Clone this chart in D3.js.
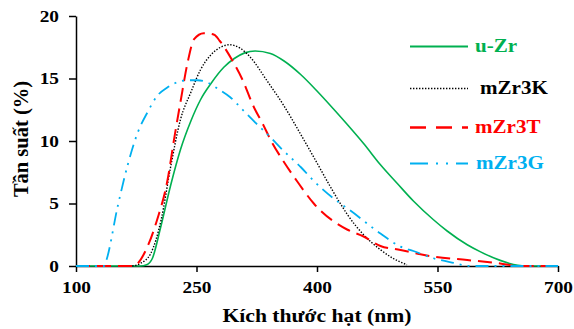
<!DOCTYPE html>
<html>
<head>
<meta charset="utf-8">
<script src="https://cdn.jsdelivr.net/npm/d3@7"></script>
<style>
  body { margin: 0; background: #fff; }
  text { font-family: "Liberation Serif", "Times New Roman", serif; font-weight: bold; }
</style>
</head>
<body>
<div id="chart"></div>
<script>
// tick labels and titles
const xTicks = [100, 250, 400, 550, 700];
const yTicks = [0, 5, 10, 15, 20];
const xTitle = "Kích thước hạt (nm)";
const yTitle = "Tần suất (%)";

// series (size in nm, frequency in %)
const uZrSize = [100, 180, 188, 195, 205, 218, 230, 243, 255, 268, 284, 297, 310, 323, 342, 359, 380, 400, 420, 438, 458, 479, 500, 520, 545, 562, 587, 603, 628, 650, 660, 700];
const uZrFreq = [0, 0, 0.1, 0.6, 3.0, 6.5, 9.3, 11.6, 13.3, 14.6, 15.9, 16.6, 17.05, 17.2, 17.0, 16.4, 15.3, 14.0, 12.6, 11.3, 9.8, 8.1, 6.6, 5.2, 3.7, 2.8, 1.7, 1.15, 0.45, 0.05, 0, 0];

const mZr3KSize = [170, 180, 193, 206, 218, 230, 243, 255, 268, 280, 291, 305, 317, 338, 359, 380, 396, 417, 429, 438, 458, 479, 495, 512];
const mZr3KFreq = [0, 0.2, 1.0, 3.7, 8.0, 11.7, 13.9, 15.7, 16.9, 17.5, 17.7, 17.4, 16.7, 14.8, 12.8, 10.5, 8.7, 6.3, 5.0, 4.1, 2.5, 1.3, 0.6, 0.1];

const mZr3TSize = [100, 171, 189, 201, 214, 222, 230, 239, 247, 259, 272, 279, 295, 308, 320, 333, 343, 357, 375, 396, 438, 458, 479, 504, 520, 545, 587, 628, 650, 700];
const mZr3TFreq = [0, 0, 1.55, 3.7, 6.9, 10.1, 13.1, 16.3, 18.15, 18.63, 18.5, 18.0, 16.4, 14.8, 12.9, 11.3, 10.0, 8.5, 6.8, 5.0, 2.9, 2.36, 1.6, 1.28, 1.05, 0.75, 0.48, 0.2, 0, 0];

const mZr3GSize = [100, 135, 137.5, 152, 164, 177, 189, 201, 214, 226, 239, 251, 264, 276, 292, 309, 326, 342, 357, 380, 396, 429, 438, 479, 504, 520, 545, 570, 590, 700];
const mZr3GFreq = [0, 0, 0.4, 4.8, 8.0, 10.7, 12.3, 13.6, 14.3, 14.7, 14.86, 14.86, 14.67, 14.2, 13.5, 12.4, 11.3, 10.3, 9.3, 7.9, 6.8, 5.0, 4.6, 2.6, 1.55, 1.2, 0.62, 0.25, 0, 0];

const seriesNames = ["u-Zr", "mZr3K", "mZr3T", "mZr3G"];
const seriesSizes = [uZrSize, mZr3KSize, mZr3TSize, mZr3GSize];
const seriesFreqs = [uZrFreq, mZr3KFreq, mZr3TFreq, mZr3GFreq];

const STYLE = {
  "u-Zr":  { color: "#00B050", width: 1.6, dash: null, legendDash: null },
  "mZr3K": { color: "#000000", width: 1.4, dash: "1.4,1.6", legendDash: "1.4,1.6" },
  "mZr3T": { color: "#FF0000", width: 2, dash: "14,7", legendDash: "16,10" },
  "mZr3G": { color: "#00B0F0", width: 1.8, dash: "13,6,2,6,2,6", legendDash: "18,8,2,8,2,8" }
};

const W = 574, H = 329;
const margin = { top: 16, right: 16, bottom: 63, left: 76 };
const STRETCH = 1.17;

function stretchText(sel, k) {
  sel.each(function () {
    const w = this.getComputedTextLength();
    d3.select(this).attr("textLength", w * k).attr("lengthAdjust", "spacingAndGlyphs");
  });
}

const svg = d3.select("#chart").append("svg")
  .attr("width", W).attr("height", H);

const x = d3.scaleLinear().domain([100, 700]).range([margin.left, W - margin.right]);
const y = d3.scaleLinear().domain([0, 20]).range([H - margin.bottom, margin.top]);

// x axis
svg.append("g")
  .attr("transform", `translate(0,${H - margin.bottom})`)
  .call(d3.axisBottom(x).tickValues(xTicks).tickSize(6).tickPadding(9).tickSizeOuter(0))
  .call(g => g.selectAll(".domain, .tick line").attr("stroke", "#000").attr("stroke-width", 1.5))
  .call(g => g.selectAll(".tick text").attr("fill", "#000").style("font-size", "16.5px").call(stretchText, STRETCH));

// y axis
svg.append("g")
  .attr("transform", `translate(${margin.left},0)`)
  .call(d3.axisLeft(y).tickValues(yTicks).tickSize(7).tickPadding(10).tickSizeOuter(0))
  .call(g => g.selectAll(".domain, .tick line").attr("stroke", "#000").attr("stroke-width", 1.5))
  .call(g => g.selectAll(".tick text").attr("fill", "#000").style("font-size", "16.5px").call(stretchText, STRETCH));

// lines
const line = d3.line()
  .x(d => x(d[0]))
  .y(d => y(d[1]))
  .curve(d3.curveMonotoneX);

seriesNames.forEach((name, i) => {
  const pts = seriesSizes[i].map((s, j) => [s, seriesFreqs[i][j]]);
  const st = STYLE[name];
  svg.append("path")
    .datum(pts)
    .attr("d", line)
    .attr("fill", "none")
    .attr("stroke", st.color)
    .attr("stroke-width", st.width)
    .attr("stroke-dasharray", st.dash);
});

// axis titles
svg.append("text")
  .attr("x", (margin.left + W - margin.right) / 2)
  .attr("y", 322)
  .attr("text-anchor", "middle")
  .style("font-size", "18.5px")
  .text(xTitle)
  .call(stretchText, STRETCH);

svg.append("text")
  .attr("transform", "translate(28,139) rotate(-90)")
  .attr("text-anchor", "middle")
  .style("font-size", "20.5px")
  .text(yTitle);

// legend
const legendRows = [46, 88, 127, 163];
const legendTextX = [475, 480, 475, 476];
const legend = svg.append("g");
seriesNames.forEach((name, i) => {
  const st = STYLE[name];
  legend.append("line")
    .attr("x1", 410).attr("x2", 468)
    .attr("y1", legendRows[i] + 0.5).attr("y2", legendRows[i] + 0.5)
    .attr("stroke", st.color)
    .attr("stroke-width", st.width + 0.3)
    .attr("stroke-dasharray", st.legendDash);
  legend.append("text")
    .attr("x", legendTextX[i])
    .attr("y", legendRows[i] + 6)
    .attr("fill", st.color)
    .style("font-size", "18px")
    .text(name)
    .call(stretchText, STRETCH);
});
</script>
</body>
</html>
